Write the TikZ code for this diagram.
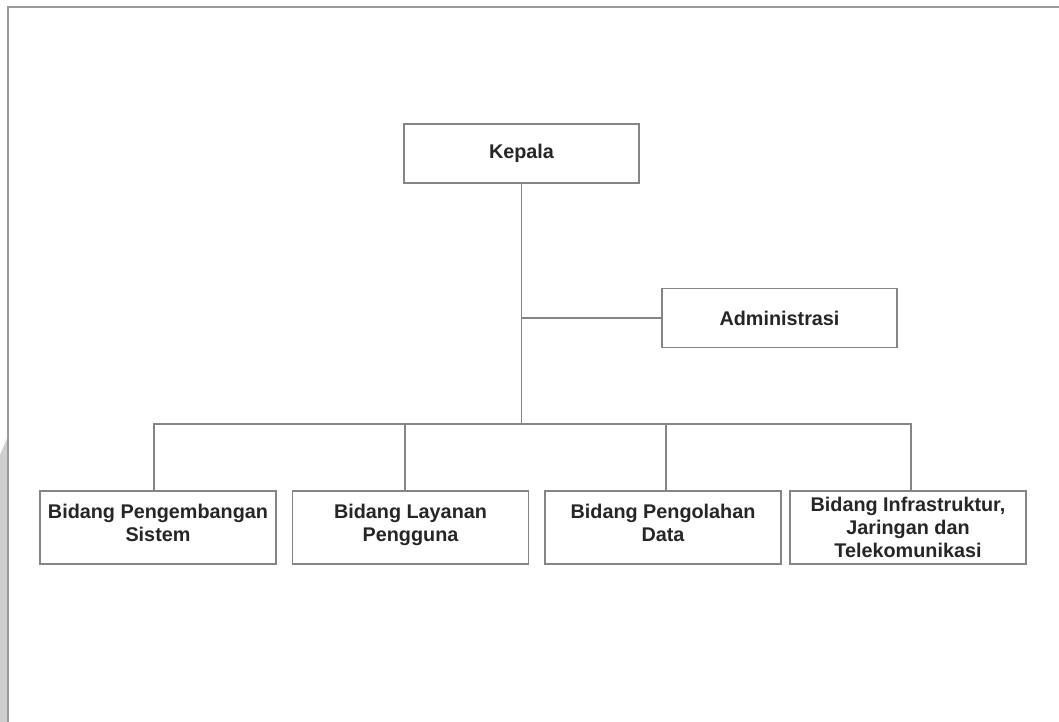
\documentclass[tikz,border=0pt]{standalone}
\usepackage{fontspec}
\setmainfont{Liberation Sans}
\definecolor{linegray}{HTML}{858585}
\definecolor{framegray}{HTML}{9A9A9A}
\definecolor{textdark}{HTML}{262626}
\definecolor{stripgray}{HTML}{CFCFCF}
\begin{document}
\begin{tikzpicture}[x=0.5pt,y=-0.5pt,
  box/.style={draw=linegray, line width=0.9pt, fill=white, inner sep=0pt, align=center,
    font=\fontsize{9.9}{11.6}\selectfont\bfseries, text=textdark},
  topbox/.style={box, minimum width=117.5pt, minimum height=29.5pt},
  bottombox/.style={box, minimum width=118pt, minimum height=36.5pt},
  conn/.style={draw=linegray, line width=0.9pt}]
\useasboundingbox (0,0) rectangle (1059,722);
% frame and edge strip
\fill[stripgray] (0,455) -- (8,436) -- (8,722) -- (0,722) -- cycle;
\draw[framegray, line width=1pt] (8,722) -- (8,7) -- (1059,7);
% nodes
\node[topbox] (kepala) at (521.5,153.5) {Kepala};
\node[topbox] (admin) at (779.5,318) {Administrasi};
\node[bottombox] (b1) at (158,527.5) {Bidang Pengembangan\\Sistem\\[-7.1pt]};
\node[bottombox] (b2) at (410.5,527.5) {Bidang Layanan\\Pengguna\\[-7.1pt]};
\node[bottombox] (b3) at (663,527.5) {Bidang Pengolahan\\Data\\[-7.1pt]};
\node[bottombox] (b4) at (908,527.5) {Bidang Infrastruktur,\\Jaringan dan\\Telekomunikasi};
\coordinate (bus) at (0,424);
% connectors
\draw[conn] (kepala.south) -- (kepala.south |- bus);
\draw[conn] (kepala.south |- admin.west) -- (admin.west);
\draw[conn] ([xshift=-2pt]b1.north) -- ([xshift=-2pt]b1.north |- bus) -- ([xshift=1.5pt]b4.north |- bus) -- ([xshift=1.5pt]b4.north);
\draw[conn] ([xshift=-2.75pt]b2.north) -- ([xshift=-2.75pt]b2.north |- bus);
\draw[conn] ([xshift=1.5pt]b3.north) -- ([xshift=1.5pt]b3.north |- bus);
\end{tikzpicture}
\end{document}
